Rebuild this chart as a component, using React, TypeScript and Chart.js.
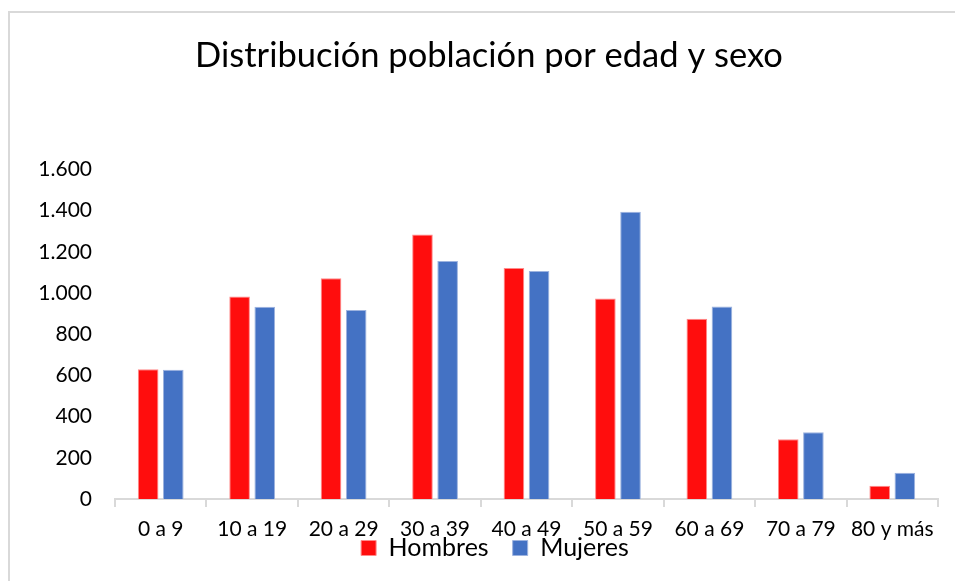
import React, { useEffect, useRef } from "react";
import { Chart, registerables } from "chart.js";

Chart.register(...registerables);

const categories = ["0 a 9", "10 a 19", "20 a 29", "30 a 39", "40 a 49", "50 a 59", "60 a 69", "70 a 79", "80 y más"];
const hombres = [630, 983, 1071, 1284, 1121, 973, 875, 290, 64];
const mujeres = [628, 933, 918, 1155, 1107, 1395, 934, 324, 128];
const yTickValues = [0, 200, 400, 600, 800, 1000, 1200, 1400, 1600];
const yTickLabels = ["0", "200", "400", "600", "800", "1.000", "1.200", "1.400", "1.600"];
const titleText = "Distribución población por edad y sexo";
const seriesNames = ["Hombres", "Mujeres"];

const FONT = "Lato, 'Open Sans', sans-serif";
const LEGEND_FONT = 25;
const LEGEND_PAD = 24;
const LEGEND_TEXT_CENTER_Y = 548;

const borderPlugin = {
  id: "frameBorder",
  beforeDraw(chart: any) {
    const ctx = chart.ctx;
    ctx.save();
    ctx.fillStyle = "#ffffff";
    ctx.fillRect(0, 0, chart.width, chart.height);
    ctx.strokeStyle = "#d9d9d9";
    ctx.lineWidth = 2;
    ctx.beginPath();
    ctx.moveTo(9, chart.height);
    ctx.lineTo(9, 12);
    ctx.lineTo(chart.width, 12);
    ctx.stroke();
    ctx.restore();
  },
  afterLayout(chart: any) {
    const lg = chart.legend;
    if (!lg) return;
    const h = lg.bottom - lg.top;
    const newTop = LEGEND_TEXT_CENTER_Y - LEGEND_PAD - LEGEND_FONT / 2;
    lg.top = newTop;
    lg.bottom = newTop + h;
    lg.left += 6;
    lg.right += 6;
  },
};

export default function App() {
  const ref = useRef<HTMLCanvasElement>(null);
  useEffect(() => {
    if (!ref.current) return;
    const chart = new Chart(ref.current, {
      type: "bar",
      data: {
        labels: categories,
        datasets: [
          {
            label: seriesNames[0],
            data: hombres,
            backgroundColor: "#ff0d0d",
            borderColor: "#ff8a8a",
            borderWidth: 1,
            categoryPercentage: 0.55,
            barPercentage: 0.82,
          },
          {
            label: seriesNames[1],
            data: mujeres,
            backgroundColor: "#4472c4",
            borderColor: "#9db3df",
            borderWidth: 1,
            categoryPercentage: 0.55,
            barPercentage: 0.82,
          },
        ],
      },
      options: {
        animation: false,
        responsive: false,
        maintainAspectRatio: false,
        layout: { padding: { left: 40, right: 17, top: 0, bottom: -18 } },
        plugins: {
          title: {
            display: true,
            text: titleText,
            color: "#000000",
            font: { family: FONT, size: 34.5, weight: "normal" },
            padding: { top: 35, bottom: 93 },
          },
          legend: {
            display: true,
            position: "bottom",
            labels: {
              color: "#000000",
              font: { family: FONT, size: LEGEND_FONT },
              boxWidth: 15,
              boxHeight: 15,
              padding: LEGEND_PAD,
            },
          },
          tooltip: { enabled: false },
        },
        scales: {
          x: {
            afterFit: (scale: any) => {
              scale.height = 41;
            },
            grid: {
              display: true,
              drawOnChartArea: false,
              drawTicks: true,
              tickLength: 8,
              color: "#d9d9d9",
              lineWidth: 2,
              offset: true,
            },
            border: { display: true, color: "#d9d9d9", width: 2 },
            ticks: {
              color: "#000000",
              font: { family: FONT, size: 21, lineHeight: 1 },
              padding: 12,
              maxRotation: 0,
              autoSkip: false,
            },
          },
          y: {
            min: 0,
            max: 1600,
            afterBuildTicks: (scale: any) => {
              scale.ticks = yTickValues.map((v) => ({ value: v }));
            },
            afterFit: (scale: any) => {
              scale.width = 75;
            },
            grid: { display: false, drawTicks: false },
            border: { display: false },
            ticks: {
              color: "#000000",
              font: { family: FONT, size: 21 },
              padding: 23,
              callback: (value: any) => {
                const i = yTickValues.indexOf(Number(value));
                return i >= 0 ? yTickLabels[i] : "";
              },
            },
          },
        },
      },
      plugins: [borderPlugin],
    });
    return () => chart.destroy();
  }, []);
  return (
    <div style={{ position: "fixed", left: 0, top: 0, width: 955, height: 581 }}>
      <canvas ref={ref} width={955} height={581} style={{ display: "block", width: 955, height: 581 }} />
    </div>
  );
}
